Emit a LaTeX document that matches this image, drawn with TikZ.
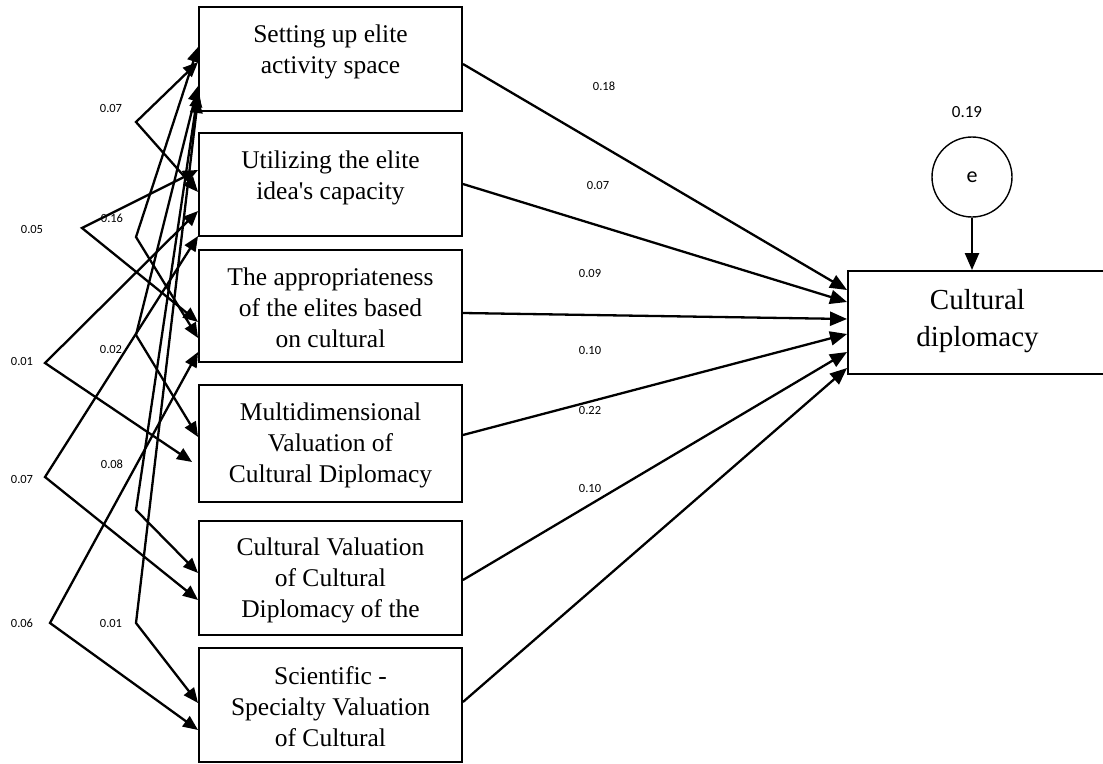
\documentclass[tikz,border=0pt]{standalone}
\usepackage{fontspec}
\setmainfont{Liberation Serif}
\newfontfamily\calfont{Carlito}
\usetikzlibrary{arrows.meta,calc}
\begin{document}
\begin{tikzpicture}[x=1pt,y=-1pt,
  box/.style={draw,line width=1.9pt,minimum width=263pt,inner sep=0pt},
  btext/.style={align=center,font=\fontsize{25.5}{31}\selectfont,inner sep=0pt},
  lab/.style={font=\calfont\fontsize{12.5}{14}\selectfont,inner sep=0pt},
  pth/.style={line width=2.3pt,-{Triangle[length=17pt,width=14pt]}},
  cov/.style={line width=2.3pt,{Triangle[length=15pt,width=12.5pt]}-{Triangle[length=15pt,width=12.5pt]}},
]
\useasboundingbox (0,0) rectangle (1103,763);
\fill[white] (0,0) rectangle (1103,763);

% boxes
\node[box,minimum height=104pt] (b1) at (330.5,59) {};
\node[box,minimum height=103pt] (b2) at (330.5,184.5) {};
\node[box,minimum height=112pt] (b3) at (330.5,306) {};
\node[box,minimum height=117pt] (b4) at (330.5,443.5) {};
\node[box,minimum height=114pt] (b5) at (330.5,578) {};
\node[box,minimum height=114pt] (b6) at (330.5,705) {};

\node[btext] (t1) at (330.5,52) {Setting up elite\\activity space};
\node[btext] (t2) at (330.5,178) {Utilizing the elite\\idea\textquotesingle s capacity};
\node[btext] (t3) at (330.5,307.5) {The appropriateness\\of the elites based\\on cultural};
\node[btext] (t4) at (330.5,445) {Multidimensional\\Valuation of\\Cultural Diplomacy};
\node[btext] (t5) at (330.5,580) {Cultural Valuation\\of Cultural\\Diplomacy of the};
\node[btext] (t6) at (330.5,706.5) {Scientific -\\Specialty Valuation\\of Cultural};

% dependent
\node[draw,line width=1.9pt,minimum width=259pt,minimum height=103pt,inner sep=0pt] (cd) at (977.5,322.5) {};
\node[align=center,font=\fontsize{29}{37}\selectfont,inner sep=0pt] (tcd) at (977.5,321) {Cultural\\diplomacy};

\node[draw,circle,minimum size=80pt,line width=1.4pt,inner sep=0pt,font=\calfont\fontsize{22}{26}\selectfont] (e) at (972,177) {e};
\node[font=\calfont\fontsize{17}{20}\selectfont,inner sep=0pt] (le) at (967,112) {0.19};
\draw[pth] (e.south) -- (e.south |- cd.north);

% paths
\draw[pth] (b1.east |- 0,64) -- (cd.west |- 0,290);
\draw[pth] (b2.east |- 0,184) -- (cd.west |- 0,302);
\draw[pth] (b3.east |- 0,313) -- (cd.west |- 0,319);
\draw[pth] (b4.east |- 0,435) -- (cd.west |- 0,334);
\draw[pth] (b5.east |- 0,580) -- (cd.west |- 0,352);
\draw[pth] (b6.east |- 0,702) -- (cd.west |- 0,368);

\node[lab] (p1) at (604,86) {0.18};
\node[lab] (p2) at (598,185) {0.07};
\node[lab] (p3) at (590,273) {0.09};
\node[lab] (p4) at (590,350) {0.10};
\node[lab] (p5) at (590,410) {0.22};
\node[lab] (p6) at (590,488) {0.10};

% covariances
\coordinate (v1) at (136,122);
\coordinate (v2) at (82,228);
\coordinate (v3) at (136,237);
\coordinate (v4) at (45,363);
\coordinate (v5) at (136,335);
\coordinate (v6) at (45,477);
\coordinate (v7) at (136,510);
\coordinate (v8) at (50,623);
\coordinate (v9) at (136,623);

\draw[cov] (b1.west |- 0,62) -- (v1) -- (b2.west |- 0,192);
\draw[cov] (b2.west |- 0,170) -- (v2) -- (b3.west |- 0,322);
\draw[cov] (b1.west |- 0,47) -- (v3) -- (b3.west |- 0,338);
\draw[cov] (b2.west |- 0,211) -- (v4) -- ($(b4.west |- 0,462)+(-6,0)$);
\draw[cov] (b1.west |- 0,86) -- (v5) -- (b4.west |- 0,437);
\draw[cov] (b2.west |- 0,236) -- (v6) -- (b5.west |- 0,600);
\draw[cov] (b1.west |- 0,92) -- (v7) -- (b5.west |- 0,573);
\draw[cov] (b3.west |- 0,352) -- (v8) -- (b6.west |- 0,730);
\draw[cov] (b1.west |- 0,98) -- (v9) -- (b6.west |- 0,703);

\node[lab] (c1) at (111,108) {0.07};
\node[lab] (c2) at (32,229) {0.05};
\node[lab] (c3) at (112,218) {0.16};
\node[lab] (c4) at (22,361) {0.01};
\node[lab] (c5) at (111,349) {0.02};
\node[lab] (c6) at (22,479) {0.07};
\node[lab] (c7) at (112,464) {0.08};
\node[lab] (c8) at (22,623) {0.06};
\node[lab] (c9) at (111,623) {0.01};
\end{tikzpicture}
\end{document}
